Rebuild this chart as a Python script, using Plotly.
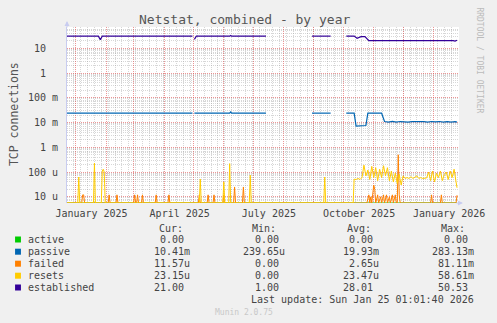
import pandas as pd
import plotly.graph_objects as go

BASE = pd.Timestamp("2025-01-01")

# ---------------- data (day offsets relative to 1 Jan 2025) ----------------
x_window_days = [-9, 391]

label_dates = ["2025-01-17", "2025-04-17", "2025-07-17", "2025-10-17", "2026-01-17"]
label_text = ["January 2025", "April 2025", "July 2025", "October 2025", "January 2026"]

y_tickvals = [10, 1, 0.1, 0.01, 0.001, 1e-4, 1e-5]
y_ticktext = ["10\u00a0\u00a0", "1\u00a0\u00a0", "100 m", "10 m", "1 m", "100 u", "10 u"]

active_day = [-9, 389]
active_val = [0, 0]

passive_day = [-9, 119, 120, 121, 157, 158, 159, 194, 220, 241, 260, 268, 276, 284, 286, 296, 298, 312,
               315, 319, 323, 327, 331, 335, 339, 343, 347, 351, 355, 359, 363, 367, 371, 375, 379, 383, 387, 389]
passive_val = [0.024, 0.024, None, 0.024, 0.024, 0.027, 0.024, 0.024, None, 0.024, 0.024, None, 0.024, 0.024,
               0.0072, 0.0076, 0.024, 0.024,
               0.0110, 0.0105, 0.0112, 0.0104, 0.0110, 0.0106, 0.0104, 0.0108, 0.0112, 0.0110, 0.0108, 0.0104,
               0.0110, 0.0106, 0.0110, 0.0104, 0.0108, 0.0104, 0.0108, 0.0104]

failed_day = [-9, 6, 7, 8, 9, 33, 34, 35, 41, 42, 43, 59, 60, 61, 62, 63, 64, 67, 68, 69, 81, 82, 83,
              94, 95, 96, 125, 126, 127, 134, 135, 136, 140, 141, 142, 150, 151, 152, 161, 162, 163,
              170, 171, 172, 297, 299, 300, 301, 302, 304, 305, 306, 308, 309, 311, 312, 314, 315, 317,
              318, 320, 321, 323, 324, 326, 327, 328, 329, 330, 331, 362, 363, 364, 372, 373, 374, 388, 389]
failed_val = [0, 0, 12e-6, 12e-6, 0, 0, 12e-6, 0, 0, 12e-6, 0, 0, 12e-6, 0, 0, 12e-6, 0, 0, 12e-6, 0, 0, 12e-6, 0,
              0, 12e-6, 0, 0, 12e-6, 0, 0, 12e-6, 0, 0, 12e-6, 0, 0, 12e-6, 0, 0, 25e-6, 0,
              0, 25e-6, 0, 0, 12e-6, 0, 10e-6, 0, 30e-6, 20e-6, 0, 12e-6, 0, 10e-6, 0, 12e-6, 0, 12e-6,
              0, 10e-6, 0, 12e-6, 0, 12e-6, 0, 0, 500e-6, 12e-6, 0, 0, 12e-6, 0, 0, 12e-6, 0, 0, 11.57e-6]

resets_day = [-9, 2, 3, 4, 18, 19, 20, 26, 27, 28, 29, 30, 126, 127, 128, 150, 151, 152, 156, 157, 158,
              177, 178, 179, 253, 254, 255, 283,
              284, 286, 288, 290, 292, 294, 296, 298, 300, 302, 304, 306, 308, 310, 312, 314, 316, 318,
              320, 322, 324, 326, 328, 330, 332, 334, 336, 338, 340, 342, 344, 346, 348, 350, 352, 354,
              356, 358, 360, 362, 364, 366, 368, 370, 372, 374, 376, 378, 380, 382, 384, 386, 388, 389]
resets_val = [0, 0, 63e-6, 0, 0, 230e-6, 0, 0, 110e-6, 130e-6, 100e-6, 0, 0, 52e-6, 0, 0, 40e-6, 0, 0, 220e-6, 0,
              0, 75e-6, 0, 0, 63e-6, 0, 0,
              52e-6, 50e-6, 55e-6, 50e-6, 60e-6, 190e-6, 70e-6, 120e-6, 50e-6, 170e-6, 60e-6, 150e-6, 45e-6,
              130e-6, 60e-6, 180e-6, 70e-6, 150e-6, 45e-6, 110e-6, 40e-6, 90e-6, 35e-6, 80e-6, 30e-6, 70e-6,
              55e-6, 60e-6, 55e-6, 65e-6, 55e-6, 60e-6, 70e-6, 55e-6, 60e-6, 55e-6, 55e-6, 58e-6, 100e-6,
              45e-6, 110e-6, 40e-6, 90e-6, 60e-6, 110e-6, 45e-6, 80e-6, 100e-6, 50e-6, 110e-6, 60e-6, 130e-6,
              40e-6, 23.15e-6]

established_day = [-9, 23, 25, 27, 119, 120, 121, 123, 157, 158, 159, 194, 220, 241, 260, 268,
                   276, 284, 287, 291, 295, 299, 385, 387, 389]
established_val = [31, 31, 22, 31, 31, None, 23, 31, 31, 33, 31, 31, None, 31, 31, None,
                   31, 31, 25.5, 29.5, 29.5, 20.3, 20.3, 19.5, 21]

series_names = ["active", "passive", "failed", "resets", "established"]
series_colors = ["#00CC00", "#0066B3", "#FF8000", "#FFCC00", "#330099"]
cur_txt = ["0.00", "10.41m", "11.57u", "23.15u", "21.00"]
min_txt = ["0.00", "239.65u", "0.00", "0.00", "1.00"]
avg_txt = ["0.00", "19.93m", "2.65u", "23.47u", "28.01"]
max_txt = ["0.00", "283.13m", "81.11m", "58.61m", "50.53"]

for d, v in [(passive_day, passive_val), (failed_day, failed_val), (resets_day, resets_val),
             (established_day, established_val)]:
    assert len(d) == len(v), (len(d), len(v))

# ---------------- figure ----------------
Y_RANGE = [-5.25, 1.86]
FLOOR = 10 ** Y_RANGE[0]   # zero values sit on the bottom edge, as in rrdtool


def dates(days):
    return [BASE + pd.Timedelta(days=int(d)) for d in days]


def floor0(vals):
    return [None if v is None else (FLOOR if v <= 0 else v) for v in vals]


FONT = "DejaVu Sans Mono"
TXT = "#444444"

x_range = [BASE + pd.Timedelta(days=x_window_days[0]), BASE + pd.Timedelta(days=x_window_days[1])]

fig = go.Figure()
series = [(active_day, active_val), (passive_day, passive_val), (failed_day, failed_val),
          (resets_day, resets_val), (established_day, established_val)]
for i, (d, v) in enumerate(series):
    fig.add_trace(go.Scatter(
        x=dates(d), y=floor0(v), mode="lines", name=series_names[i],
        line=dict(color=series_colors[i], width=1.2 if i in (1, 4) else 1),
        connectgaps=False, hoverinfo="skip"))

# empty carrier trace so the label axis (x2) is rendered
fig.add_trace(go.Scatter(x=x_range, y=[None, None], xaxis="x2", mode="lines",
                         hoverinfo="skip", showlegend=False))

month_starts = pd.date_range("2025-01-01", "2026-01-01", freq="MS")

minor_y = [m * 10 ** e for e in range(-6, 2) for m in range(2, 10)]

L, R, T, B = 67, 467, 27, 203
W, H = 497, 323


def px(X, Y):
    return (X - L) / (R - L), (B - Y) / (B - T)


fig.update_layout(
    width=W, height=H, autosize=False,
    margin=dict(l=L, r=W - R, t=T, b=H - B, pad=0),
    paper_bgcolor="#F0F0F0", plot_bgcolor="#FFFFFF",
    showlegend=False, hovermode=False,
    font=dict(family=FONT, size=10, color=TXT),
    xaxis=dict(type="date", range=x_range, tickvals=list(month_starts), showticklabels=False,
               ticks="", showgrid=True, gridcolor="rgba(225,80,80,0.6)", griddash="1px,1px", gridwidth=1,
               minor=dict(tick0="2024-12-23", dtick=7 * 86400000, showgrid=True,
                          gridcolor="rgba(150,150,150,0.38)", griddash="1px,1px", gridwidth=1, ticks=""),
               zeroline=False, showline=False, fixedrange=True),
    xaxis2=dict(type="date", range=x_range, overlaying="x", anchor="y", side="bottom",
                tickvals=label_dates, ticktext=label_text, ticks="", showgrid=False,
                tickfont=dict(family=FONT, size=10, color=TXT), zeroline=False, showline=False,
                ticklabelstandoff=3),
    yaxis=dict(type="log", range=Y_RANGE, tickvals=y_tickvals, ticktext=y_ticktext, ticks="",
               tickfont=dict(family=FONT, size=10, color=TXT),
               showgrid=True, gridcolor="rgba(225,80,80,0.6)", griddash="1px,1px", gridwidth=1,
               minor=dict(tickmode="array", tickvals=minor_y, showgrid=True,
                          gridcolor="rgba(150,150,150,0.38)", griddash="1px,1px", gridwidth=1, ticks=""),
               zeroline=False, showline=True, linecolor="#C8CCF0", linewidth=1, ticklabelstandoff=6),
)

ann = []


def text(X, Y, s, size=10, color=TXT, xanchor="left", angle=0):
    x, y = px(X, Y)
    ann.append(dict(x=x, y=y, xref="paper", yref="paper", text=s, showarrow=False,
                    xanchor=xanchor, yanchor="middle", textangle=angle,
                    font=dict(family=FONT, size=size, color=color)))


text(248, 19, "Netstat, combined - by year", size=13, color="#555555", xanchor="center")
text(12.5, 114.5, "TCP connections", size=11.5, color="#555555", xanchor="center", angle=-90)
text(488, 60, "RRDTOOL / TOBI OETIKER", size=8, color="#BBBBBB", xanchor="center", angle=90)

for s, X in zip(["Cur:", "Min:", "Avg:", "Max:"], [158.5, 253.5, 350.5, 446.5]):
    text(X, 228, s)

row_y = [239.5, 251.7, 263.7, 275.7, 287.5]
NB = "\u00a0"
for i, nm in enumerate(series_names):
    Y = row_y[i]
    x0, y0 = px(14, Y - 3)
    x1, y1 = px(20, Y + 3)
    fig.add_shape(type="rect", xref="paper", yref="paper", x0=x0, x1=x1, y0=y0, y1=y1,
                  fillcolor=series_colors[i], line=dict(width=0))
    text(25.5, Y, nm)
    for col, Xr in zip([cur_txt, min_txt, avg_txt, max_txt], [195, 291, 387.5, 484]):
        s = col[i]
        if s[-1].isdigit():
            s = s + NB
        text(Xr, Y, s, xanchor="right")

text(484, 299.5, "Last update: Sun Jan 25 01:01:40 2026", xanchor="right")
text(248, 312.5, "Munin 2.0.75", size=8, color="#C8C8C8", xanchor="center")

# axis arrows
xa, ya = px(L, 21)
ann.append(dict(x=xa, y=ya, xref="paper", yref="paper", ax=0, ay=8, showarrow=True,
                arrowhead=2, arrowsize=1, arrowwidth=1, arrowcolor="#C8CCF0", text=""))
xa, ya = px(471, B)
ann.append(dict(x=xa, y=ya, xref="paper", yref="paper", ax=-8, ay=0, showarrow=True,
                arrowhead=2, arrowsize=1, arrowwidth=1, arrowcolor="#C8CCF0", text=""))

fig.update_layout(annotations=ann)
fig.write_html("out.html")
